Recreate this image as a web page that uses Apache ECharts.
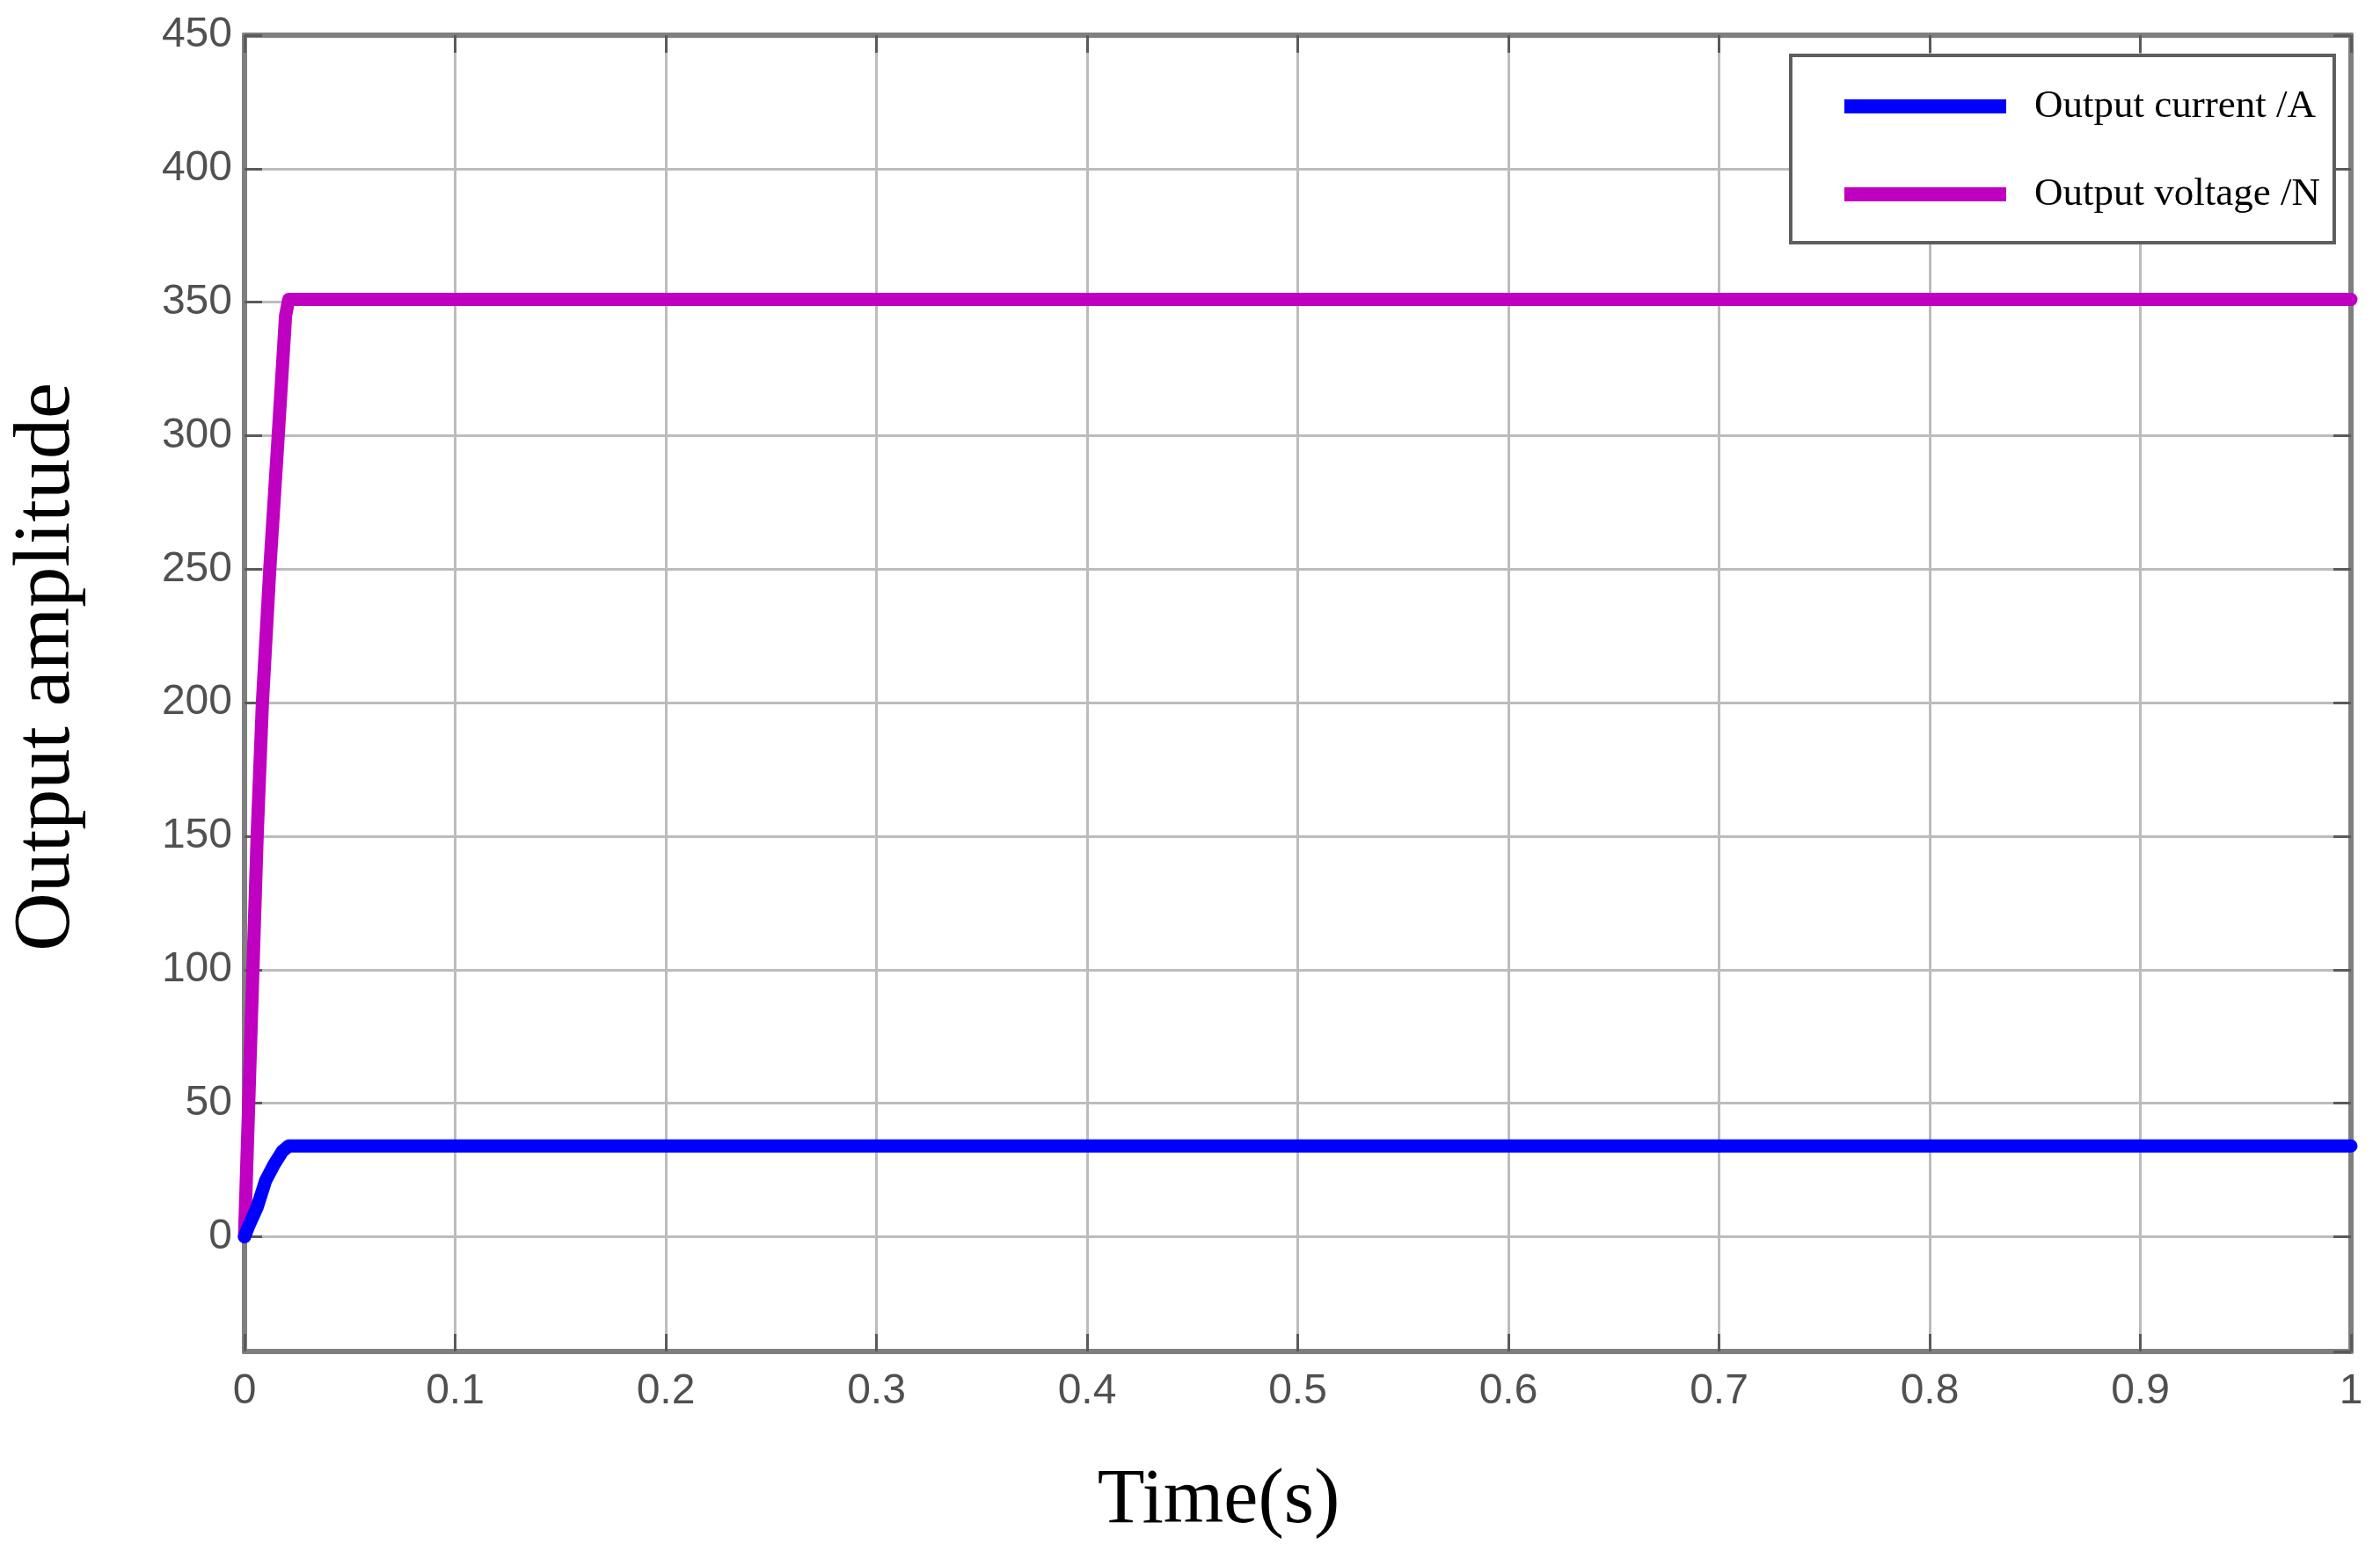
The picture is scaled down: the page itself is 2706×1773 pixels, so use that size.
<!DOCTYPE html>
<html>
<head>
<meta charset="utf-8">
<script src="https://cdn.jsdelivr.net/npm/echarts@6/dist/echarts.min.js"></script>
<style>
html,body{margin:0;padding:0;background:#fff;}
#chart{width:2706px;height:1773px;}
</style>
</head>
<body>
<div id="chart"></div>
<script>
// ---- Data ----
const seriesNames = ['Output current /A', 'Output voltage /N'];
const currentTime   = [0, 0.002, 0.006, 0.010, 0.014, 0.018, 0.021, 0.1, 0.2, 0.3, 0.4, 0.5, 0.6, 0.7, 0.8, 0.9, 1.0];
const currentValues = [0, 4, 11, 21, 27, 32, 34, 34, 34, 34, 34, 34, 34, 34, 34, 34, 34];
const voltageTime   = [0, 0.002, 0.004, 0.006, 0.0085, 0.012, 0.016, 0.0195, 0.021, 0.1, 0.2, 0.3, 0.4, 0.5, 0.6, 0.7, 0.8, 0.9, 1.0];
const voltageValues = [0, 50, 100, 150, 200, 250, 300, 345, 351, 351, 351, 351, 351, 351, 351, 351, 351, 351, 351];
const xTickLabels = ['0', '0.1', '0.2', '0.3', '0.4', '0.5', '0.6', '0.7', '0.8', '0.9', '1'];
const yMin = -43, yMax = 450, yStep = 50;
const xMin = 0, xMax = 1, xStep = 0.1;

const pairs = (ts, vs) => ts.map((t, i) => [t, vs[i]]);

const chart = echarts.init(document.getElementById('chart'), null, {renderer: 'canvas'});

const gridLine = {show: true, lineStyle: {color: '#bcbcbc', width: 3}};
const boxLine = {show: true, onZero: false, lineStyle: {color: '#7f7f7f', width: 6}};
const innerTick = {show: true, inside: true, length: 20, lineStyle: {color: '#5a5a5a', width: 3}};
const labelStyle = {fontFamily: 'Liberation Sans', fontSize: 48, color: '#505050'};

const option = {
  animation: false,
  backgroundColor: '#ffffff',
  grid: {left: 273, right: 33, top: 40, bottom: 236, containLabel: false,
         show: true, borderColor: '#7f7f7f', borderWidth: 5},
  legend: {
    data: seriesNames,
    orient: 'vertical',
    left: 2036, top: 63,
    icon: 'rect',
    itemWidth: 184, itemHeight: 16,
    itemGap: 50,
    padding: [33, 16, 30, 61],
    backgroundColor: '#ffffff',
    borderColor: '#5e5e5e', borderWidth: 4,
    textStyle: {fontFamily: 'Liberation Serif', fontSize: 45, color: '#000', lineHeight: 50, padding: [0, 0, 0, 27]}
  },
  xAxis: [{
    type: 'value', min: xMin, max: xMax, interval: xStep, position: 'bottom',
    name: 'Time(s)', nameLocation: 'middle', nameGap: 127,
    nameTextStyle: {fontFamily: 'Liberation Serif', fontSize: 88, color: '#000', padding: [0, 180, 0, 0]},
    axisLine: boxLine, axisTick: innerTick, splitLine: gridLine,
    axisLabel: Object.assign({margin: 22, formatter: (v) => xTickLabels[Math.round((v - xMin) / xStep)]}, labelStyle)
  }, {
    type: 'value', min: xMin, max: xMax, interval: xStep, position: 'top',
    axisLine: boxLine, axisTick: innerTick, splitLine: {show: false}, axisLabel: {show: false}
  }],
  yAxis: [{
    type: 'value', min: yMin, max: yMax, splitNumber: 10, minInterval: yStep, maxInterval: yStep, position: 'left',
    name: 'Output amplitude', nameLocation: 'middle', nameGap: 178, nameRotate: 90,
    nameTextStyle: {fontFamily: 'Liberation Serif', fontSize: 92, color: '#000', padding: [0, 0, 0, 60]},
    axisLine: boxLine, axisTick: innerTick, splitLine: gridLine,
    axisLabel: Object.assign({margin: 14, showMinLabel: false}, labelStyle)
  }, {
    type: 'value', min: yMin, max: yMax, splitNumber: 10, minInterval: yStep, maxInterval: yStep, position: 'right',
    axisLine: boxLine, axisTick: innerTick, splitLine: {show: false}, axisLabel: {show: false}
  }],
  series: [{
    name: seriesNames[0], type: 'line', xAxisIndex: 0, yAxisIndex: 0,
    data: pairs(currentTime, currentValues),
    showSymbol: false, symbol: 'none', z: 4,
    itemStyle: {color: '#0000ff'},
    lineStyle: {color: '#0000ff', width: 15, join: 'round', cap: 'round'}
  }, {
    name: seriesNames[1], type: 'line', xAxisIndex: 0, yAxisIndex: 0,
    data: pairs(voltageTime, voltageValues),
    showSymbol: false, symbol: 'none', z: 3,
    itemStyle: {color: '#c000c0'},
    lineStyle: {color: '#c000c0', width: 15, join: 'round', cap: 'round'}
  }]
};
chart.setOption(option);
</script>
</body>
</html>
